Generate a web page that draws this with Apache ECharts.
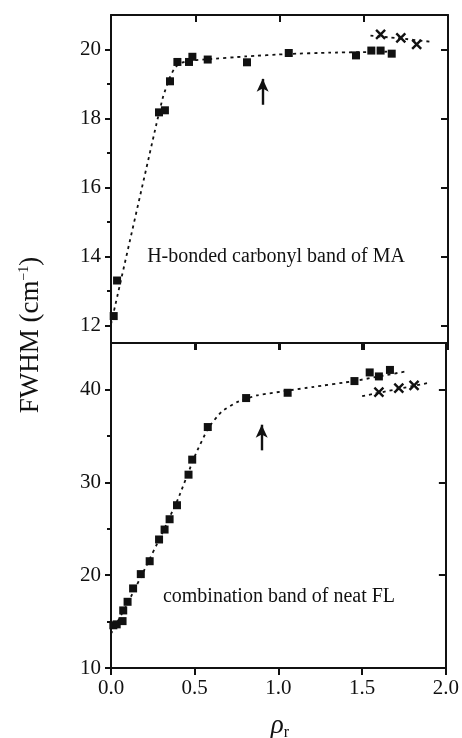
<!DOCTYPE html>
<html>
<head>
<meta charset="utf-8">
<script src="https://cdn.jsdelivr.net/npm/echarts@6/dist/echarts.min.js"></script>
<style>
html,body{margin:0;padding:0;background:#fff;}
#chart{width:462px;height:738px;}
</style>
</head>
<body>
<div id="chart"></div>
<script>
// ---- data ----
const xTickValues = [0, 0.5, 1.0, 1.5, 2.0];
const topMajorTicks = [12, 14, 16, 18, 20];
const topMinorTicks = [13, 15, 17, 19];
const bottomMajorTicks = [10, 20, 30, 40];
const bottomMinorTicks = [15, 25, 35];

// top panel: H-bonded carbonyl band of MA
const topSqX = [0.016, 0.036, 0.285, 0.32, 0.35, 0.394, 0.463, 0.483, 0.574, 0.807, 1.055, 1.454, 1.545, 1.60, 1.666];
const topSqY = [12.28, 13.31, 18.18, 18.24, 19.08, 19.64, 19.64, 19.79, 19.71, 19.63, 19.90, 19.83, 19.97, 19.97, 19.88];
const topCrossX = [1.60, 1.72, 1.814];
const topCrossY = [20.44, 20.34, 20.15];
const topFitX = [0.0, 0.27, 0.31, 0.35, 0.38, 0.42, 0.50, 0.57, 0.80, 1.05, 1.30, 1.69];
const topFitY = [12.05, 17.85, 18.65, 19.2, 19.48, 19.62, 19.69, 19.72, 19.80, 19.87, 19.91, 19.94];
const topCrossFitX = [1.54, 1.70, 1.89];
const topCrossFitY = [20.40, 20.33, 20.23];
const topArrowX = [0.9, 0.9];
const topArrowY = [18.4, 19.15];

// bottom panel: combination band of neat FL
const botSqX = [0.014, 0.034, 0.069, 0.073, 0.099, 0.132, 0.178, 0.231, 0.287, 0.32, 0.35, 0.394, 0.463, 0.485, 0.578, 0.807, 1.055, 1.454, 1.545, 1.60, 1.666];
const botSqY = [14.6, 14.7, 15.05, 16.2, 17.13, 18.57, 20.11, 21.5, 23.84, 24.91, 26.02, 27.53, 30.82, 32.44, 35.95, 39.07, 39.64, 40.9, 41.83, 41.4, 42.1];
const botCrossX = [1.60, 1.719, 1.81];
const botCrossY = [39.7, 40.14, 40.43];
const botFitX = [0.0, 0.10, 0.20, 0.30, 0.40, 0.50, 0.58, 0.66, 0.75, 0.87, 1.20, 1.45, 1.77];
const botFitY = [13.7, 17.0, 20.6, 24.3, 28.2, 32.8, 35.8, 37.6, 38.6, 39.35, 40.25, 40.9, 41.97];
const botCrossFitX = [1.50, 1.89];
const botCrossFitY = [39.28, 40.68];
const botArrowX = [0.9, 0.9];
const botArrowY = [33.44, 36.2];

// ---- chart ----
const FONT = '"Liberation Serif","Times New Roman",serif';
const BLACK = '#111';
const pairs = (xs, ys) => xs.map((x, i) => [x, ys[i]]);

function xAxes(gi, withLabels) {
  const base = {
    gridIndex: gi, type: 'value', min: 0, max: 2, interval: 0.5,
    splitLine: { show: false },
    axisLine: { show: true, onZero: false, lineStyle: { color: BLACK, width: 2 } }
  };
  return [
    Object.assign({}, base, {
      position: 'bottom',
      axisTick: { show: true, inside: false, length: 7, lineStyle: { color: BLACK, width: 2 } },
      axisLabel: {
        show: withLabels, margin: 10, fontSize: 21, fontFamily: FONT, color: BLACK,
        customValues: xTickValues, formatter: v => v.toFixed(1)
      }
    }),
    Object.assign({}, base, {
      position: 'top',
      axisTick: { show: true, inside: true, length: 7, lineStyle: { color: BLACK, width: 2 } },
      axisLabel: { show: false }
    })
  ];
}

function yAxes(gi, min, max, major, minor) {
  const base = {
    gridIndex: gi, type: 'value', min: min, max: max,
    splitLine: { show: false }
  };
  const line = { show: true, onZero: false, lineStyle: { color: BLACK, width: 2 } };
  const tickStyle = { color: BLACK, width: 2 };
  return [
    Object.assign({}, base, {
      position: 'left', axisLine: line,
      axisTick: { show: true, inside: false, length: 6, customValues: major, lineStyle: tickStyle },
      axisLabel: { show: true, margin: 10, fontSize: 21, fontFamily: FONT, color: BLACK, customValues: major }
    }),
    Object.assign({}, base, {
      position: 'left', axisLine: { show: false },
      axisTick: { show: true, inside: false, length: 4, customValues: minor, lineStyle: tickStyle },
      axisLabel: { show: false }
    }),
    Object.assign({}, base, {
      position: 'right', axisLine: line,
      axisTick: { show: true, inside: true, length: 7, customValues: major, lineStyle: tickStyle },
      axisLabel: { show: false }
    }),
    Object.assign({}, base, {
      position: 'right', axisLine: { show: false },
      axisTick: { show: true, inside: true, length: 4, customValues: minor, lineStyle: tickStyle },
      axisLabel: { show: false }
    })
  ];
}

const CROSS = 'path://M0,0L10,10M0,10L10,0';

function squares(xi, yi, data) {
  return {
    type: 'scatter', xAxisIndex: xi, yAxisIndex: yi, data: data,
    symbol: 'rect', symbolSize: 8, itemStyle: { color: BLACK, opacity: 1 }, z: 5
  };
}
function crosses(xi, yi, data) {
  return {
    type: 'scatter', xAxisIndex: xi, yAxisIndex: yi, data: data,
    symbol: CROSS, symbolSize: 9,
    itemStyle: { color: 'rgba(0,0,0,0)', borderColor: BLACK, borderWidth: 2.4, opacity: 1 }, z: 5
  };
}
function fit(xi, yi, data, arrow) {
  const s = {
    type: 'line', xAxisIndex: xi, yAxisIndex: yi, data: data,
    showSymbol: false, symbol: 'none', smooth: 0.15,
    lineStyle: { color: BLACK, width: 1.8, type: [3, 4] }, z: 3
  };
  if (arrow) {
    s.markLine = {
      silent: true, animation: false,
      symbol: ['none', 'arrow'], symbolSize: [9, 13],
      label: { show: false },
      lineStyle: { type: 'solid', width: 2.4, color: BLACK },
      data: [[{ coord: arrow[0] }, { coord: arrow[1] }]]
    };
  }
  return s;
}

const chart = echarts.init(document.getElementById('chart'), null, { renderer: 'canvas' });
chart.setOption({
  animation: false,
  backgroundColor: '#fff',
  grid: [
    { left: 111, top: 15, width: 337, height: 328 },
    { left: 111, top: 343, width: 337, height: 325 }
  ],
  xAxis: [].concat(xAxes(0, false), xAxes(1, true)),
  yAxis: [].concat(
    yAxes(0, 11.5, 21, topMajorTicks, topMinorTicks),
    yAxes(1, 10, 45, bottomMajorTicks, bottomMinorTicks)
  ),
  series: [
    fit(0, 0, pairs(topFitX, topFitY), pairs(topArrowX, topArrowY)),
    fit(0, 0, pairs(topCrossFitX, topCrossFitY)),
    squares(0, 0, pairs(topSqX, topSqY)),
    crosses(0, 0, pairs(topCrossX, topCrossY)),
    fit(2, 4, pairs(botFitX, botFitY), pairs(botArrowX, botArrowY)),
    fit(2, 4, pairs(botCrossFitX, botCrossFitY)),
    squares(2, 4, pairs(botSqX, botSqY)),
    crosses(2, 4, pairs(botCrossX, botCrossY))
  ],
  graphic: [
    {
      type: 'text', x: 276, y: 257,
      style: { text: 'H-bonded carbonyl band of MA', font: '20px ' + FONT, fill: BLACK, textAlign: 'center', textVerticalAlign: 'middle' }
    },
    {
      type: 'text', x: 279, y: 597,
      style: { text: 'combination band of neat FL', font: '20px ' + FONT, fill: BLACK, textAlign: 'center', textVerticalAlign: 'middle' }
    },
    {
      type: 'text', x: 31, y: 335, rotation: Math.PI / 2,
      style: {
        text: '{a|FWHM (cm}{s|−1}{a|)}',
        textAlign: 'center', textVerticalAlign: 'middle', fill: BLACK,
        rich: {
          a: { fontSize: 27, fontFamily: FONT, fill: BLACK, lineHeight: 34 },
          s: { fontSize: 14, fontFamily: FONT, fill: BLACK, padding: [0, 0, 14, 0] }
        }
      }
    },
    {
      type: 'text', x: 280, y: 726,
      style: {
        text: '{p|ρ}{r|r}',
        textAlign: 'center', textVerticalAlign: 'middle', fill: BLACK,
        rich: {
          p: { fontSize: 27, fontFamily: FONT, fontStyle: 'italic', fill: BLACK },
          r: { fontSize: 16, fontFamily: FONT, fill: BLACK, padding: [14, 0, 0, 0] }
        }
      }
    }
  ]
});
</script>
</body>
</html>
